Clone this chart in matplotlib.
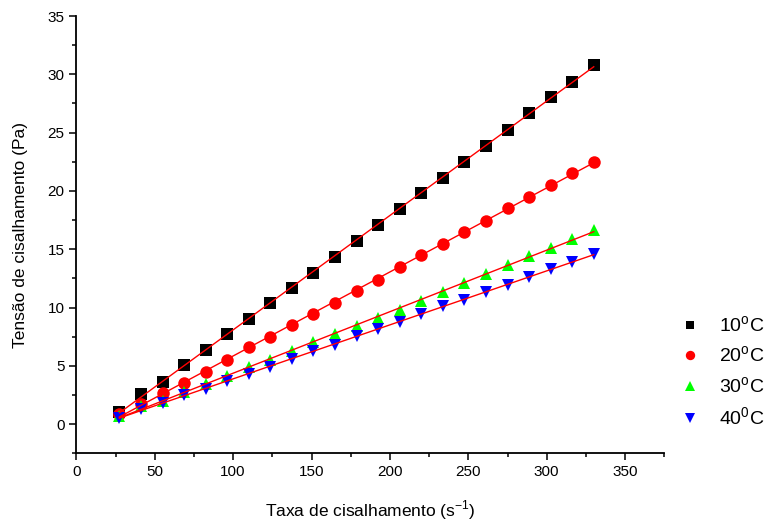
import numpy as np
import matplotlib
matplotlib.use("Agg")
import matplotlib.pyplot as plt
from matplotlib.ticker import MultipleLocator

plt.rcParams['font.family'] = ['Liberation Sans', 'DejaVu Sans']

# shear rate (s^-1)
taxa = [27.5, 41.25, 55, 68.75, 82.5, 96.25, 110, 123.75, 137.5, 151.25, 165, 178.75,
        192.5, 206.25, 220, 233.75, 247.5, 261.25, 275, 288.75, 302.5, 316.25, 330]

# shear stress (Pa) per temperature
t10 = [1.05, 2.55, 3.65, 5.05, 6.4, 7.7, 9.05, 10.4, 11.68, 13.0, 14.36, 15.73,
       17.07, 18.44, 19.81, 21.13, 22.52, 23.89, 25.23, 26.69, 28.06, 29.37, 30.77]
t20 = [0.9, 1.75, 2.7, 3.5, 4.45, 5.5, 6.6, 7.5, 8.5, 9.45, 10.4, 11.4,
       12.4, 13.5, 14.5, 15.45, 16.5, 17.45, 18.5, 19.5, 20.5, 21.5, 22.5]
t30 = [0.7, 1.54, 1.97, 2.77, 3.4, 4.17, 4.88, 5.54, 6.25, 7.02, 7.74, 8.45,
       9.1, 9.82, 10.53, 11.35, 12.07, 12.9, 13.65, 14.44, 15.13, 15.9, 16.67]
t40 = [0.55, 1.34, 1.77, 2.48, 3.03, 3.68, 4.31, 4.91, 5.6, 6.25, 6.82, 7.53,
       8.17, 8.73, 9.45, 10.1, 10.68, 11.36, 11.96, 12.62, 13.3, 13.93, 14.59]

series = [
    (t10, 's', 'black', '10$^{\\mathregular{o}}$C', 8),
    (t20, 'o', 'red', '20$^{\\mathregular{o}}$C', 9),
    (t30, '^', '#00ff00', '30$^{\\mathregular{o}}$C', 9),
    (t40, 'v', 'blue', '40$^{\\mathregular{0}}$C', 9),
]

fig = plt.figure(figsize=(7.67, 5.23), dpi=100)
ax = fig.add_axes([0.0995, 0.1333, 0.7666, 0.8361])

x = np.array(taxa)
for vals, mk, col, lab, ms in series:
    ax.plot(x, vals, linestyle='none', marker=mk, color=col, markersize=ms,
            markeredgewidth=0, label=lab, zorder=3)

# linear fits (red lines)
for vals, mk, col, lab, ms in series:
    a, b = np.polyfit(x, vals, 1)
    ax.plot(x, a * x + b, color='red', linewidth=1.0, zorder=4)

ax.set_xlim(0, 375)
ax.set_ylim(-2.5, 35)
ax.xaxis.set_major_locator(MultipleLocator(50))
ax.xaxis.set_minor_locator(MultipleLocator(25))
ax.yaxis.set_major_locator(MultipleLocator(5))
ax.yaxis.set_minor_locator(MultipleLocator(2.5))

for s in ['top', 'right']:
    ax.spines[s].set_visible(False)
for s in ['left', 'bottom']:
    ax.spines[s].set_linewidth(1.3)

ax.tick_params(which='major', direction='out', length=5, width=1.1, labelsize=11)
ax.tick_params(which='minor', direction='out', length=3, width=1.1)

ax.set_xlabel('Taxa de cisalhamento (s$^{\\mathregular{-1}}$)', fontsize=12.5, labelpad=14)
ax.set_ylabel('Tensão de cisalhamento (Pa)', fontsize=12.5, labelpad=14)

fig.legend(loc='center left', bbox_to_anchor=(0.8866, 0.2887), frameon=False, fontsize=14,
           handlelength=1.0, handletextpad=1.0, labelspacing=0.5, borderaxespad=0,
           borderpad=0, markerscale=0.75)

fig.savefig('out.png', dpi=100)
